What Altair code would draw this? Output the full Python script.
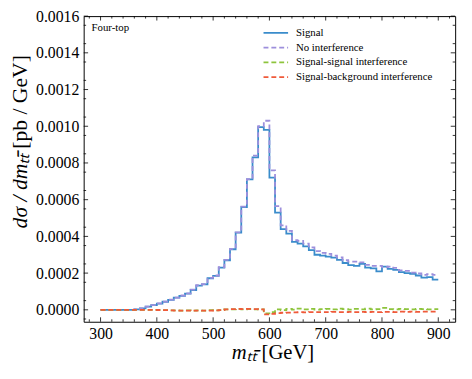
import altair as alt
import pandas as pd

# bin left edges 300..890 (10 GeV bins)
bin_edges = list(range(300, 910, 10))

signal = [0, 0, 0, 0, 0, 0,
          0.000002, 0.000008, 0.000018, 0.000026, 0.000034, 0.000044, 0.000054, 0.000066,
          0.000076, 0.000088, 0.000108, 0.000132, 0.000138, 0.000172, 0.000185, 0.00023,
          0.00027, 0.00033, 0.00042, 0.00056, 0.00071, 0.00083, 0.000995, 0.00098,
          0.00072, 0.00053, 0.00044, 0.000415, 0.00037, 0.00036, 0.000345, 0.000325,
          0.0003, 0.000295, 0.00029, 0.000284, 0.000272, 0.000255, 0.000244, 0.00024,
          0.00025, 0.00023, 0.000226, 0.00021, 0.000235, 0.000223, 0.000217, 0.000205,
          0.0002, 0.000196, 0.000187, 0.000176, 0.000178, 0.000165]

no_interference = [0, 0, 0, 0, 0, 0,
          0.000002, 0.000008, 0.000018, 0.000026, 0.000035, 0.000045, 0.000055, 0.000067,
          0.000078, 0.00009, 0.00011, 0.000134, 0.00014, 0.000174, 0.000187, 0.000232,
          0.000272, 0.000332, 0.000422, 0.000562, 0.000712, 0.00084, 0.001, 0.00103,
          0.00076, 0.000565, 0.00046, 0.00043, 0.00038, 0.000375, 0.00036, 0.00034,
          0.00032, 0.00031, 0.000305, 0.000295, 0.000285, 0.00027, 0.000262, 0.000262,
          0.000258, 0.000245, 0.00024, 0.00024, 0.000232, 0.000235, 0.000228, 0.000215,
          0.000212, 0.000203, 0.000198, 0.00019, 0.000195, 0.00019]

sig_sig = [0, 0, 0, 0, 0, 0,
           0, 0, 0, 0, -0.000001, -0.000002, -0.000003, -0.000003,
           -0.000004, -0.000003, -0.000004, -0.000003, -0.000004, -0.000002, -0.000003, -0.000002,
           0.000002, 0.000003, 0.000004, 0.000003, 0.000004, 0.000003, 0.000002, -0.00002,
           -0.000012, 0.000003, -0.000002, 0.000005, 0.000001, 0.000006, 0.000002, 0.000005,
           0.000001, 0.000004, 0.000005, 0.000002, 0.000006, 0.000004, 0.000001, 0.000005,
           0.000003, 0.000006, 0.000002, 0.000004, 0.00001, 0.000004, 0.000003, 0.000005,
           0.000004, 0.000003, 0.000005, 0.000004, 0.000003, 0.000004]

sig_bkg = [0, 0, 0, 0, 0, 0,
           0, 0, 0, 0, -0.000001, -0.000002, -0.000003, -0.000004,
           -0.000005, -0.000004, -0.000005, -0.000004, -0.000005, -0.000004, -0.000003, -0.000002,
           0.000002, 0.000004, 0.000005, 0.000004, 0.000005, 0.000004, 0.000002, -0.000025,
           -0.000022, -0.000018, -0.000016, -0.000015, -0.000014, -0.000013, -0.000014, -0.000012,
           -0.000013, -0.000012, -0.000013, -0.000011, -0.000012, -0.000012, -0.000011, -0.000012,
           -0.000011, -0.000012, -0.000011, -0.000012, -0.000011, -0.000011, -0.000012, -0.00001,
           -0.000011, -0.00001, -0.000011, -0.00001, -0.00001, -0.00001]

series_names = ["Signal", "No interference", "Signal-signal interference",
                "Signal-background interference"]
series_colors = ["#3a8ccb", "#9d8fdc", "#8dc43c", "#ef5a3a"]
series_dash = [[1, 0], [5, 3], [5, 3], [5, 3]]

x_major = [300, 400, 500, 600, 700, 800, 900]
x_minor = [280, 320, 340, 360, 380, 420, 440, 460, 480, 520, 540, 560, 580,
           620, 640, 660, 680, 720, 740, 760, 780, 820, 840, 860, 880, 920]
y_major = [0.0, 0.0002, 0.0004, 0.0006, 0.0008, 0.0010, 0.0012, 0.0014, 0.0016]
y_minor = [-0.00005, 0.00005, 0.00015, 0.00025, 0.00035, 0.00045, 0.00055, 0.00065,
           0.00075, 0.00085, 0.00095, 0.00105, 0.00115, 0.00125, 0.00135, 0.00145, 0.00155]

X_DOMAIN = [270, 930]
Y_DOMAIN = [-0.000065, 0.0016]
W, H = 378, 311
FONT = "Liberation Serif"

rows = []
for name, vals in zip(series_names, [signal, no_interference, sig_sig, sig_bkg]):
    pts = list(zip(bin_edges[:-1], vals)) + [(bin_edges[-1], vals[-1])]
    for i, (xv, yv) in enumerate(pts):
        rows.append({"series": name, "m": xv, "v": yv, "order": i})
df = pd.DataFrame(rows)

xs = alt.Scale(domain=X_DOMAIN, nice=False, zero=False)
ys = alt.Scale(domain=Y_DOMAIN, nice=False, zero=False)

x_axis = alt.Axis(values=x_major, ticks=False, grid=False, domain=False,
                  labelFont=FONT, labelFontSize=16, labelColor="black",
                  labelPadding=4, format="d", labelOverlap=False, title=None)
y_axis = alt.Axis(values=y_major, ticks=False, grid=False, domain=False,
                  labelFont=FONT, labelFontSize=16, labelColor="black",
                  labelPadding=5, format=".4f", labelOverlap=False,
                  labelBound=False, labelFlush=False, title=None)

lines = alt.Chart(df).mark_line(interpolate="step-after", strokeWidth=1.8, clip=True).encode(
    x=alt.X("m:Q", scale=xs, axis=x_axis),
    y=alt.Y("v:Q", scale=ys, axis=y_axis),
    color=alt.Color("series:N", scale=alt.Scale(domain=series_names, range=series_colors),
                    legend=None),
    strokeDash=alt.StrokeDash("series:N",
                              scale=alt.Scale(domain=series_names, range=series_dash),
                              legend=None),
    order="order:Q",
    detail="series:N",
)

def xticks(data, L):
    bot = alt.Chart(data).mark_rule(color="black", strokeWidth=0.8).encode(
        x=alt.X("m:Q", scale=xs, axis=x_axis), y=alt.value(H), y2=alt.value(H - L))
    top = alt.Chart(data).mark_rule(color="black", strokeWidth=0.8).encode(
        x=alt.X("m:Q", scale=xs, axis=x_axis), y=alt.value(0), y2=alt.value(L))
    return bot + top

def yticks(data, L):
    left = alt.Chart(data).mark_rule(color="black", strokeWidth=0.8).encode(
        y=alt.Y("v:Q", scale=ys, axis=y_axis), x=alt.value(0), x2=alt.value(L))
    right = alt.Chart(data).mark_rule(color="black", strokeWidth=0.8).encode(
        y=alt.Y("v:Q", scale=ys, axis=y_axis), x=alt.value(W), x2=alt.value(W - L))
    return left + right

one = pd.DataFrame({"k": [0]})

def text(t, x, y, size, italic=False, align="left", angle=0, baseline="middle"):
    kw = dict(font=FONT, fontSize=size, align=align, baseline=baseline, color="black")
    if italic:
        kw["fontStyle"] = "italic"
    if angle:
        kw["angle"] = angle
    return alt.Chart(one).mark_text(**kw).encode(
        text=alt.value(t), x=alt.value(x), y=alt.value(y))

layers = [lines,
          xticks(pd.DataFrame({"m": x_major}), 4.5), xticks(pd.DataFrame({"m": x_minor}), 2.5),
          yticks(pd.DataFrame({"v": y_major}), 4.5), yticks(pd.DataFrame({"v": y_minor}), 2.5),
          text("Four-top", 8, 12, 11)]

# legend
for i, (name, col, dash) in enumerate(zip(series_names, series_colors, series_dash)):
    yy = 17 + 15 * i
    layers.append(alt.Chart(one).mark_rule(color=col, strokeWidth=1.8, strokeDash=dash).encode(
        x=alt.value(183), x2=alt.value(208), y=alt.value(yy)))
    layers.append(text(name, 216, yy, 11))

# axis titles
layers.append(text("mₜₜ̄", 176, H + 32, 21, italic=True, align="right"))
layers.append(text("[GeV]", 181, H + 32, 21, align="left"))
layers.append(text("dσ / dmₜₜ̄", -65, 140, 22, italic=True, align="right", angle=270))
layers.append(text("[pb / GeV]", -65, 135, 22, align="left", angle=270))

chart = alt.layer(*layers).properties(
    width=W, height=H,
    autosize=alt.AutoSizeParams(type="none"),
    padding={"left": 77, "top": 5, "right": 9, "bottom": 55},
).configure_view(stroke="black", strokeWidth=1)

chart.save("out.html", embed_options={"renderer": "svg", "actions": False})
